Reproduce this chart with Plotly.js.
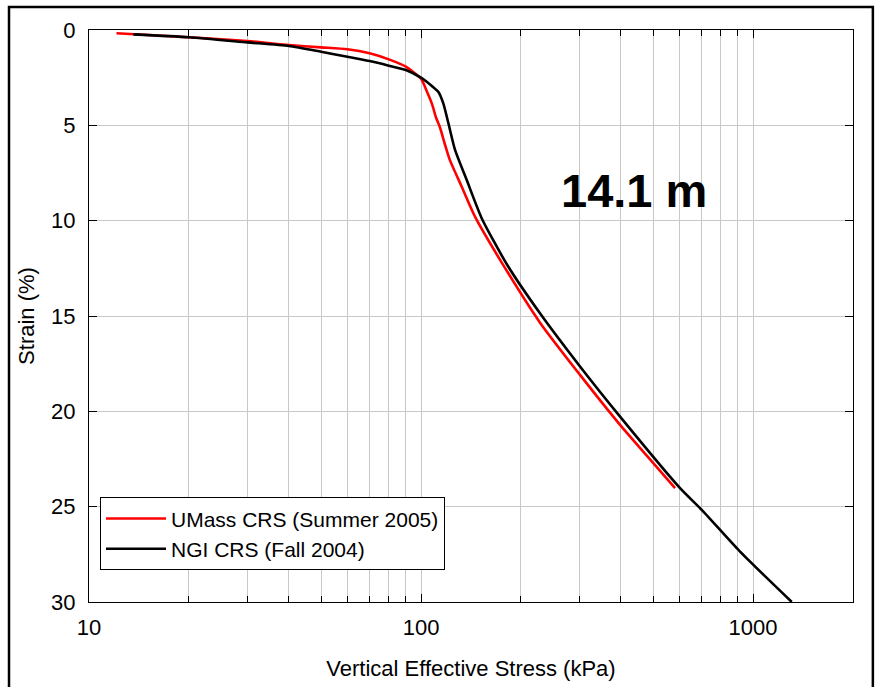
<!DOCTYPE html>
<html>
<head>
<meta charset="utf-8">
<script src="https://cdn.plot.ly/plotly-3.0.1.min.js"></script>
<style>html,body{margin:0;padding:0;background:#fff;}#chart{width:883px;height:687px;}</style>
</head>
<body>
<div id="chart"></div>
<script>
// UMass CRS (Summer 2005)
var umassStress = [12.1, 20, 30, 40, 50, 60, 70, 80, 90, 100, 104, 108, 111, 114, 118, 122, 132.6, 145.4, 175, 228.2, 301.2, 397.6, 480, 582.3];
var umassStrain = [0.17, 0.38, 0.58, 0.79, 0.91, 1.01, 1.22, 1.54, 1.92, 2.56, 3.2, 3.9, 4.6, 5.1, 6.0, 6.8, 8.22, 9.79, 12.2, 15.35, 18.09, 20.71, 22.35, 24.03];
// NGI CRS (Fall 2004)
var ngiStress = [13.6, 20, 30, 40, 50, 60, 70, 80, 90, 100, 104, 108, 112.7, 116.7, 120.9, 126.6, 137.3, 152.3, 181.5, 228.2, 301.2, 397.6, 602.7, 700.6, 913.7, 1308];
var ngiStrain = [0.23, 0.38, 0.65, 0.84, 1.14, 1.40, 1.63, 1.87, 2.10, 2.50, 2.71, 2.95, 3.24, 3.85, 4.89, 6.29, 7.87, 9.87, 12.3, 14.86, 17.65, 20.28, 24.03, 25.17, 27.36, 30.0];

var seriesNames = ["UMass CRS (Summer 2005)", "NGI CRS (Fall 2004)"];
var xTickVals = [10, 100, 1000];
var xTickText = ["10", "100", "1000"];
var yTickVals = [0, 5, 10, 15, 20, 25, 30];
var depthLabel = "14.1 m";

var FONT = "Liberation Sans, Arial, sans-serif";
var GRID = "#c8c8c8";

var traces = [
  {x: umassStress, y: umassStrain, name: seriesNames[0], type: "scatter", mode: "lines",
   line: {color: "#ff0000", width: 2.6, shape: "spline", smoothing: 0.6}},
  {x: ngiStress, y: ngiStrain, name: seriesNames[1], type: "scatter", mode: "lines",
   line: {color: "#000000", width: 2.6, shape: "spline", smoothing: 0.6}}
];

var layout = {
  width: 883, height: 687,
  margin: {l: 89, r: 30, t: 30, b: 85, pad: 0},
  paper_bgcolor: "#ffffff", plot_bgcolor: "#ffffff",
  font: {family: FONT, size: 22, color: "#000"},
  showlegend: true,
  legend: {x: 0.0144, y: 0.183, xanchor: "left", yanchor: "top",
    bgcolor: "#ffffff", bordercolor: "#000", borderwidth: 1,
    itemwidth: 60,
    font: {family: FONT, size: 21, color: "#000"}, tracegroupgap: 0},
  xaxis: {
    type: "log", range: [1, 3.301], autorange: false,
    tickmode: "array", tickvals: xTickVals, ticktext: xTickText,
    ticks: "inside", ticklen: 8, tickcolor: "#000", tickwidth: 1,
    showline: true, linecolor: "#000", linewidth: 1, mirror: "ticks",
    showgrid: true, gridcolor: GRID, gridwidth: 1, zeroline: false,
    ticklabelstandoff: 6,
    minor: {dtick: "D1", ticks: "inside", ticklen: 6, tickcolor: "#000", showgrid: true, gridcolor: GRID, gridwidth: 1},
    title: {text: "Vertical Effective Stress (kPa)", font: {family: FONT, size: 22}, standoff: 21},
    automargin: false
  },
  yaxis: {
    range: [30, 0], autorange: false,
    tickmode: "array", tickvals: yTickVals,
    ticks: "inside", ticklen: 8, tickcolor: "#000", tickwidth: 1,
    showline: true, linecolor: "#000", linewidth: 1, mirror: "ticks",
    showgrid: true, gridcolor: GRID, gridwidth: 1, zeroline: false,
    ticklabelstandoff: 8,
    title: {text: "Strain (%)", font: {family: FONT, size: 22}, standoff: 10},
    automargin: false
  },
  shapes: [
    {type: "rect", xref: "paper", yref: "paper", x0: 0.590, x1: 0.933, y0: 0.619, y1: 0.788,
     fillcolor: "#ffffff", line: {width: 0}, layer: "between"},
    {type: "rect", xref: "paper", yref: "paper", x0: -0.1047, x1: 1.026, y0: -0.2, y1: 1.040,
     fillcolor: "rgba(0,0,0,0)", line: {color: "#000", width: 2.5}, layer: "above"}
  ],
  annotations: [
    {text: "<b>" + depthLabel + "</b>", xref: "paper", yref: "paper", x: 0.714, y: 0.719,
     xanchor: "center", yanchor: "middle", showarrow: false,
     font: {family: FONT, size: 47, color: "#000"}}
  ]
};

Plotly.newPlot("chart", traces, layout, {displayModeBar: false, staticPlot: true});
</script>
</body>
</html>
